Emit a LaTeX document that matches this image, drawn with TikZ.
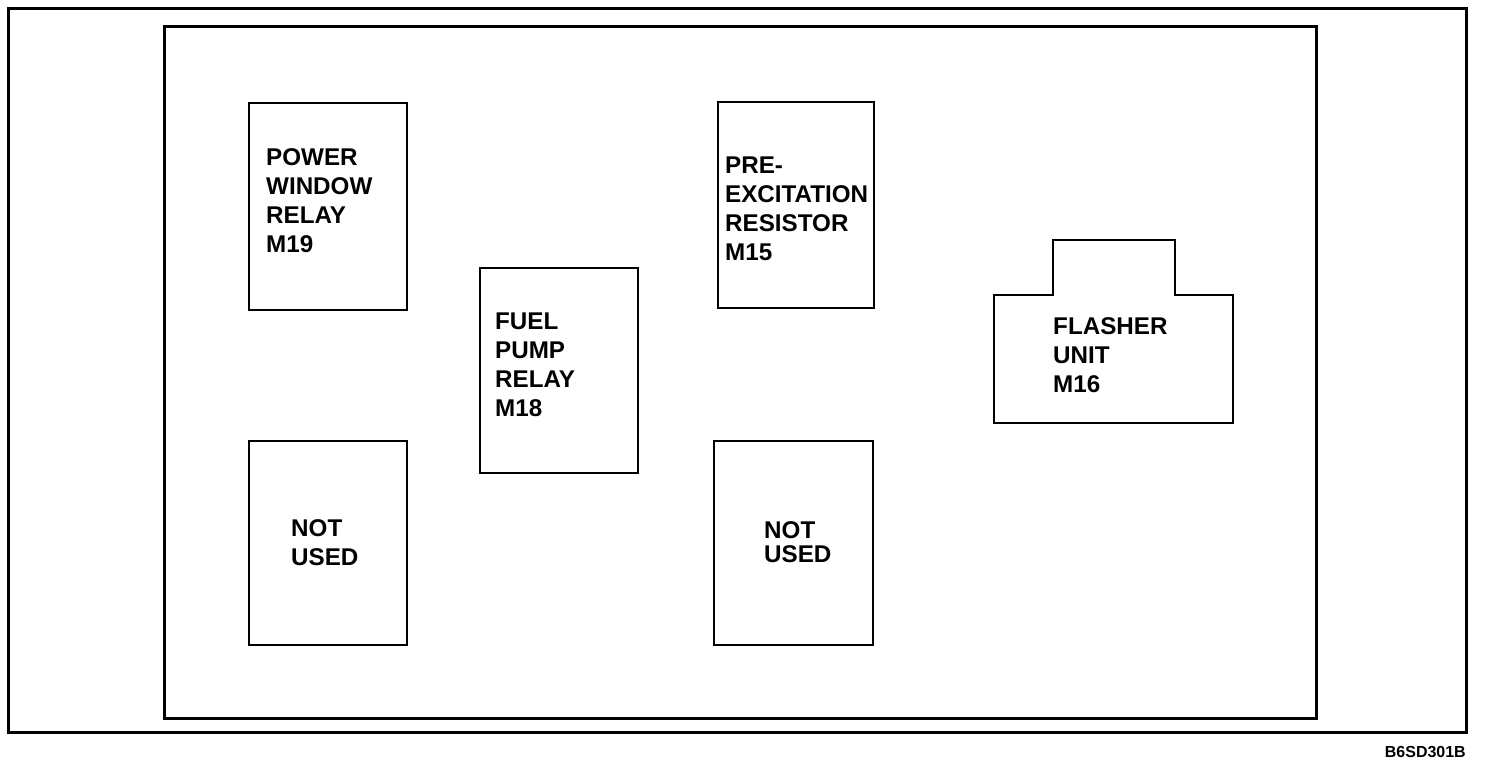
\documentclass[tikz,border=0pt]{standalone}
\usepackage{fontspec}
\setmainfont{Liberation Sans}
\begin{document}
\begin{tikzpicture}[x=1pt,y=-1pt,
  frame/.style={line width=3pt},
  box/.style={draw, line width=2pt, inner sep=0pt},
  lbl/.style={font=\bfseries\fontsize{24.2}{29}\selectfont, align=left, anchor=north west, inner sep=0pt},
  code/.style={font=\bfseries\fontsize{16}{18}\selectfont, anchor=east, inner sep=0pt}]
\useasboundingbox (0,0) rectangle (1488,766);
\draw[frame] (8,8) rectangle (1466,732);
\draw[frame] (164,26) rectangle (1316,718);
% boxes
\node[box, minimum width=158pt, minimum height=207pt] (pwr) at (328,206.5) {};
\node[box, minimum width=158pt, minimum height=205pt] (fuel) at (559,370.5) {};
\node[box, minimum width=156pt, minimum height=206pt] (pre) at (796,205) {};
\node[box, minimum width=158pt, minimum height=204pt] (nu1) at (328,543) {};
\node[box, minimum width=159pt, minimum height=204pt] (nu2) at (793.5,543) {};
\draw[line width=2pt] (994,295) coordinate (fl) -- (1053,295) -- (1053,240) -- (1175,240) -- (1175,295) -- (1233,295) -- (1233,423) -- (994,423) -- cycle;
% labels
\node[lbl] (pwrt) at (266,148) {POWER\\WINDOW\\RELAY\\M19};
\node[lbl] (fuelt) at (495,313) {FUEL\\PUMP\\RELAY\\M18};
\node[lbl] (pret) at (725,157) {PRE-\\EXCITATION\\RESISTOR\\M15};
\node[lbl] (flt) at (1053,317) {FLASHER\\UNIT\\M16};
\node[lbl] (nu1t) at (291,519) {NOT\\USED};
\node[lbl, font=\bfseries\fontsize{24.2}{24}\selectfont] (nu2t) at (764,521) {NOT\\USED};
\node[code] (codet) at (1466,752) {B6SD301B};
\end{tikzpicture}
\end{document}
